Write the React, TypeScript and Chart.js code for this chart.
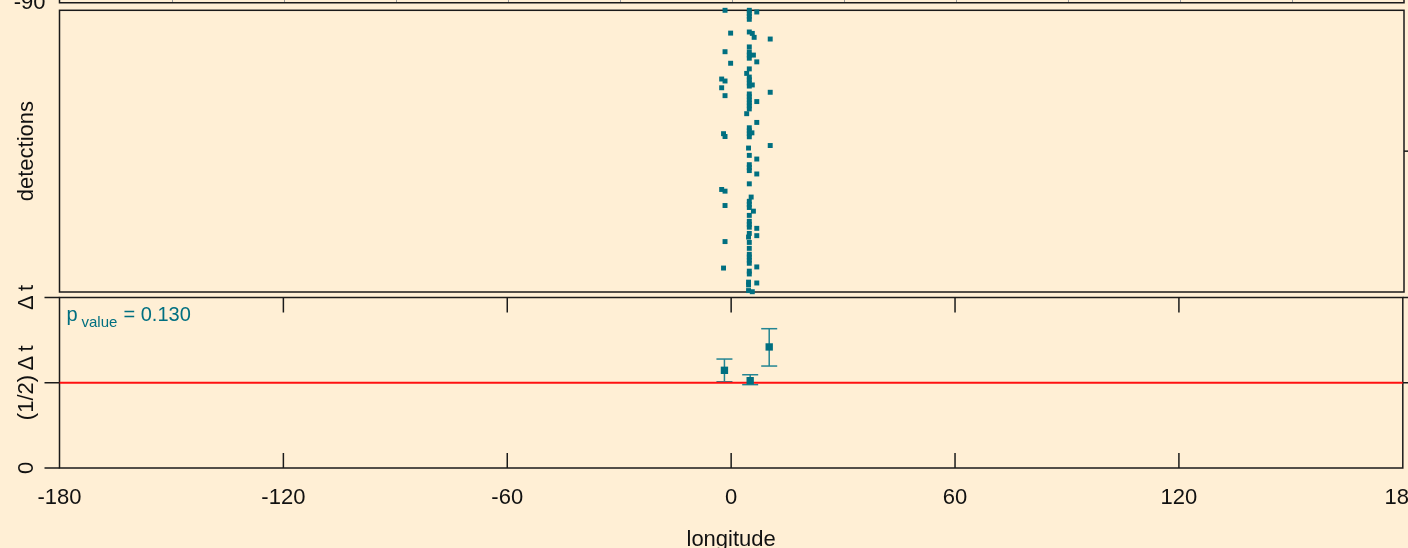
import React, { useEffect, useRef } from 'react';
import { Chart, registerables } from 'chart.js';

Chart.register(...registerables);

const BG = '#FFEFD5';
const TEAL = '#006F80';
const BAR_TEAL = '#238593';
const FRAME = '#1a1a1a';
const TEXT = '#111111';
const RED = '#FF1010';
const FONT = '"Liberation Sans", Arial, Helvetica, sans-serif';

// ---- detections (top panel): longitude vs. relative time (0 = bottom, 100 = top)
const detLon = [
  -1.8, 4.7, 4.7, 4.7, 4.7, 6.7, -0.3, 4.7, 5.5, 6.0,
  10.3, 4.7, -1.8, 4.7, 4.7, 4.7, 5.8, 6.7, -0.3, 4.7,
  4.0, 4.7, 4.7, 4.7, 4.7, -2.7, -1.8, 5.5, -2.7, 10.3,
  -1.8, 4.7, 4.7, 4.7, 4.7, 6.7, 4.7, 4.7, 4.0, 6.7,
  -2.2, -1.8, 4.7, 4.7, 4.7, 4.7, 5.4, 10.3, 4.5, 4.7,
  6.7, 4.7, 4.7, 4.7, 6.7, 4.7, -2.7, -1.8, 5.2, -1.8,
  4.7, 4.7, 4.7, 5.8, 4.7, 4.7, 4.7, 4.7, 6.7, 6.7,
  4.5, 4.7, -1.8, 4.7, 4.7, 4.7, 4.7, 4.7, 4.7, -2.2,
  6.7, 4.7, 4.7, 4.5, 4.5, 6.7, 4.5, 5.5,
];
const detTime = [
  100, 100, 98.9, 97.9, 96.8, 99.4, 91.9, 92.3, 91.8, 90.4,
  89.8, 87.0, 85.3, 85.2, 84.1, 83.0, 84.1, 81.7, 81.2, 79.2,
  77.6, 76.3, 75.3, 74.2, 73.1, 75.6, 74.9, 73.5, 72.5, 70.9,
  69.7, 70.3, 69.3, 68.2, 67.1, 67.6, 66.1, 65.0, 63.3, 60.2,
  56.2, 55.2, 58.3, 57.2, 56.2, 55.1, 56.5, 52.0, 51.1, 48.5,
  47.2, 45.2, 44.2, 43.1, 41.9, 38.4, 36.4, 35.8, 33.7, 30.7,
  32.2, 31.1, 30.0, 28.7, 27.2, 25.1, 24.0, 23.0, 22.6, 20.0,
  19.5, 20.8, 17.9, 17.6, 15.5, 13.4, 12.4, 11.3, 10.2, 8.5,
  8.9, 7.4, 6.4, 3.5, 2.5, 3.2, 0.5, 0.1,
];

// ---- binned phase (bottom panel), in units of Δt
const binLon = [-1.8, 5.1, 10.2];
const binMean = [0.573, 0.512, 0.71];
const binLow = [0.506, 0.489, 0.598];
const binHigh = [0.639, 0.547, 0.817];
const refLevel = 0.5;
const pValueText = '0.130';

// ---- axes
const xMin = -180;
const xMax = 180;
const xTicks = [-180, -120, -60, 0, 60, 120, 180];
const yTickValues = [0, 0.5, 1];
const yTickLabels = ['0', '(1/2)\u2009\u0394\u2009t', '\u0394\u2009t'];
const mapGridLon = [-150, -120, -90, -60, -30, 0, 30, 60, 90, 120, 150];
const mapLatLabel = '-90';

function line(ctx: CanvasRenderingContext2D, x1: number, y1: number, x2: number, y2: number) {
  ctx.beginPath();
  ctx.moveTo(x1, y1);
  ctx.lineTo(x2, y2);
  ctx.stroke();
}

function vText(ctx: CanvasRenderingContext2D, text: string, x: number, y: number, size: number) {
  ctx.save();
  ctx.translate(x, y);
  ctx.rotate(-Math.PI / 2);
  ctx.font = `${size}px ${FONT}`;
  ctx.fillStyle = TEXT;
  ctx.textAlign = 'center';
  ctx.textBaseline = 'alphabetic';
  ctx.fillText(text, 0, 0);
  ctx.restore();
}

const topPlugin = {
  id: 'topPanelDeco',
  beforeDatasetsDraw(chart: any) {
    const { ctx, chartArea: a, scales } = chart;
    const x = scales.x;
    const y = scales.y;
    ctx.save();
    // strip of the panel above (map)
    ctx.strokeStyle = '#9a9a9a';
    ctx.lineWidth = 1;
    mapGridLon.forEach((v) => {
      const px = Math.round(x.getPixelForValue(v)) + 0.5;
      line(ctx, px, 0, px, 2.7);
    });
    ctx.strokeStyle = FRAME;
    ctx.lineWidth = 1.5;
    ctx.beginPath();
    ctx.moveTo(a.left, 0);
    ctx.lineTo(a.left, 2.7);
    ctx.lineTo(a.right, 2.7);
    ctx.lineTo(a.right, 0);
    ctx.stroke();
    ctx.font = `22px ${FONT}`;
    ctx.fillStyle = TEXT;
    ctx.textAlign = 'right';
    ctx.textBaseline = 'alphabetic';
    ctx.fillText(mapLatLabel, a.left - 14, 9);

    // frame
    ctx.strokeRect(a.left, a.top, a.right - a.left, a.bottom - a.top);
    // right tick
    const ym = y.getPixelForValue(50);
    line(ctx, a.right, ym, a.right + 8, ym);
    // title
    vText(ctx, 'detections', 33.3, (a.top + a.bottom) / 2, 22);
    ctx.restore();
  },
};

const botPlugin = {
  id: 'bottomPanelDeco',
  beforeDatasetsDraw(chart: any) {
    const { ctx, chartArea: a, scales } = chart;
    const x = scales.x;
    const y = scales.y;
    ctx.save();
    ctx.strokeStyle = FRAME;
    ctx.lineWidth = 1.5;
    ctx.strokeRect(a.left, a.top, a.right - a.left, a.bottom - a.top);
    // ticks on top and bottom (inward)
    xTicks.forEach((v) => {
      if (v === xMin || v === xMax) return;
      const px = x.getPixelForValue(v);
      line(ctx, px, a.top, px, a.top + 15);
      line(ctx, px, a.bottom, px, a.bottom - 15);
    });
    // left ticks (outward) + labels
    yTickValues.forEach((v, i) => {
      const py = y.getPixelForValue(v);
      line(ctx, a.left - 15, py, a.left, py);
      if (v > 0) line(ctx, a.right, py, a.right + 8, py);
      vText(ctx, yTickLabels[i], 33.3, py, 22);
    });
    // p-value
    ctx.fillStyle = TEAL;
    ctx.textBaseline = 'alphabetic';
    ctx.textAlign = 'left';
    ctx.font = `20px ${FONT}`;
    const bx = a.left + 7;
    const by = a.top + 23;
    ctx.fillText('p', bx, by);
    ctx.font = `15px ${FONT}`;
    ctx.fillText('value', bx + 15, by + 6);
    ctx.font = `20px ${FONT}`;
    ctx.fillText('= ' + pValueText, bx + 57, by);
    // error bars
    ctx.strokeStyle = BAR_TEAL;
    ctx.lineWidth = 1.5;
    binLon.forEach((lon, i) => {
      const px = x.getPixelForValue(lon);
      const yl = y.getPixelForValue(binLow[i]);
      const yh = y.getPixelForValue(binHigh[i]);
      line(ctx, px, yl, px, yh);
      line(ctx, px - 8, yl, px + 8, yl);
      line(ctx, px - 8, yh, px + 8, yh);
    });
    ctx.restore();
  },
};

export default function App() {
  const topRef = useRef<HTMLCanvasElement>(null);
  const botRef = useRef<HTMLCanvasElement>(null);

  useEffect(() => {
    Chart.defaults.font.family = FONT;
    const topChart = new Chart(topRef.current as HTMLCanvasElement, {
      type: 'scatter',
      data: {
        datasets: [
          {
            data: detLon.map((lon, i) => ({ x: lon, y: detTime[i] })),
            pointStyle: 'rect',
            pointRadius: 3.5,
            pointBackgroundColor: TEAL,
            pointBorderWidth: 0,
            clip: false,
          } as any,
        ],
      },
      options: {
        responsive: false,
        animation: false,
        events: [],
        layout: { padding: { left: 59.5, right: 4, top: 10.3, bottom: 3.3 } },
        scales: {
          x: { type: 'linear', min: xMin, max: xMax, display: false },
          y: { type: 'linear', min: 0, max: 100, display: false },
        },
        plugins: { legend: { display: false }, tooltip: { enabled: false } },
      },
      plugins: [topPlugin],
    });

    const botChart = new Chart(botRef.current as HTMLCanvasElement, {
      type: 'scatter',
      data: {
        datasets: [
          {
            data: binLon.map((lon, i) => ({ x: lon, y: binMean[i] })),
            pointStyle: 'rect',
            pointRadius: 5.2,
            pointBackgroundColor: TEAL,
            pointBorderWidth: 0,
            clip: false,
          } as any,
          {
            data: [
              { x: xMin, y: refLevel },
              { x: xMax, y: refLevel },
            ],
            showLine: true,
            borderColor: RED,
            borderWidth: 2,
            pointRadius: 0,
          } as any,
        ],
      },
      options: {
        responsive: false,
        animation: false,
        events: [],
        layout: { padding: { left: 59.5, right: 4, top: 47.5, bottom: 0 } },
        scales: {
          x: {
            type: 'linear',
            min: xMin,
            max: xMax,
            position: 'bottom',
            afterBuildTicks: (s: any) => {
              s.ticks = xTicks.map((v) => ({ value: v }));
            },
            afterFit: (s: any) => {
              s.height = 80;
              s.paddingLeft = 0;
              s.paddingRight = 0;
            },
            grid: { display: false, drawTicks: false },
            border: { display: false },
            ticks: {
              font: { size: 22 },
              color: TEXT,
              padding: 17,
              autoSkip: false,
              maxRotation: 0,
              minRotation: 0,
              callback: (v: any) => String(v),
            },
            title: {
              display: true,
              text: 'longitude',
              font: { size: 22 },
              color: TEXT,
              padding: { top: 0, bottom: -5 },
            },
          } as any,
          y: { type: 'linear', min: 0, max: 1, display: false },
        },
        plugins: { legend: { display: false }, tooltip: { enabled: false } },
      },
      plugins: [botPlugin],
    });

    return () => {
      topChart.destroy();
      botChart.destroy();
    };
  }, []);

  return (
    <div
      style={{
        position: 'fixed',
        left: 0,
        top: 0,
        width: 1408,
        height: 548,
        background: BG,
        overflow: 'hidden',
      }}
    >
      <canvas ref={topRef} width={1408} height={296} style={{ position: 'absolute', left: 0, top: 0 }} />
      <canvas ref={botRef} width={1408} height={298} style={{ position: 'absolute', left: 0, top: 250 }} />
    </div>
  );
}
